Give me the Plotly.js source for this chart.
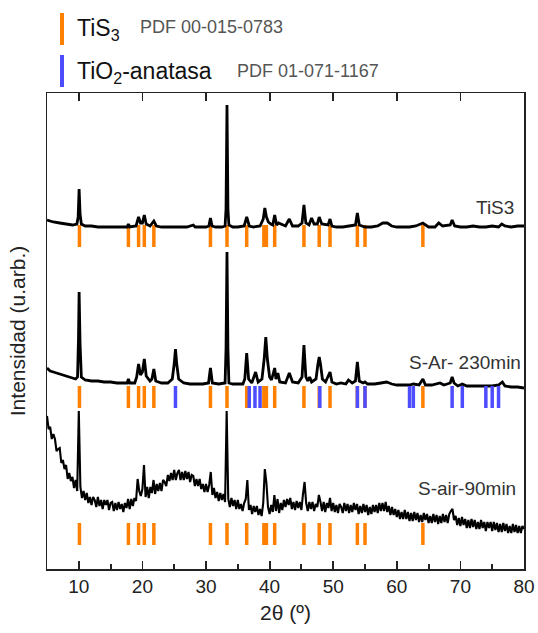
<!DOCTYPE html>
<html>
<head>
<meta charset="utf-8">
<script src="https://cdn.plot.ly/plotly-3.0.1.min.js"></script>
<style>html,body{margin:0;padding:0;background:#fff;}#chart{width:538px;height:633px;}</style>
</head>
<body>
<div id="chart"></div>
<script>
// ---- DATA (offset intensities, arbitrary units) ----
const tis3X = [5,6,7,8,9,9.7,9.9,10.05,10.2,10.4,11,12,13,14,15,16,17,17.6,17.8,18,19,19.4,19.7,20,20.3,20.6,21.2,21.8,22.2,23,24,25,26,27,28,28.3,29,30,30.45,30.7,30.95,31.5,32.5,33,33.15,33.3,33.45,33.6,34.2,35,36,36.4,36.8,37.5,38.5,39,39.25,39.5,39.8,40.2,40.5,40.8,41.1,41.4,42.5,43.1,43.6,44.5,45.1,45.4,45.7,46.2,46.6,47,47.5,47.8,48.2,49.2,49.5,49.8,50.5,51.5,52.5,53.5,53.8,54.1,55,56,57,57.8,58.5,59.2,60,61,62,63,64.1,65,66,66.6,67.2,68.4,68.7,69.1,70,71,72,73,74,75,76,76.5,77,78,79,80];
const tis3Y = [349,347,346,345,344,345,352,380,355,345,343,343,342,342,342,342,342,342,345,342,343,352,346,346,354,345,343,348,343,342,342,342,342,342,344,342,342,342,343,351,343,342,342,343,360,464,360,344,342,342,343,352,343,342,343,350,361,352,347,345,344,354,344,346,343,350,343,343,346,364,346,344,351,345,345,352,345,344,350,343,342,342,343,344,356,344,342,342,343,346,346,343,342,342,342,343,346,342,342,346,343,344,349,343,342,342,343,342,342,343,342,345,343,342,343,343];

const sarX = [5,5.5,6,6.5,7,7.5,8,8.5,9,9.5,9.8,9.95,10.05,10.2,10.4,11,12,13,14,15,16,17,17.6,17.8,18,18.8,19.1,19.4,19.7,20,20.3,20.6,21.2,21.5,21.8,22.1,23,24,24.7,25,25.2,25.4,25.7,26.5,27.5,28.5,29.5,30.4,30.7,31,32,33,33.15,33.3,33.45,33.6,34.2,35,35.8,36.1,36.4,36.7,37.2,37.8,38.2,38.8,39.15,39.4,39.65,40,40.3,40.8,41,41.3,41.6,42.5,43.1,43.6,44.5,45.1,45.4,45.7,46,46.3,46.6,47.3,47.6,47.8,48,48.3,48.8,49.5,49.8,50.5,51.2,52,52.4,53,53.5,53.8,54.1,54.7,55,55.4,56.5,57.5,58.4,59.2,60,61,62,62.6,63.5,64.1,64.5,65.5,66.8,67.4,68.4,68.7,69,69.6,70.3,71,72,73,74,75,76,76.6,77,78,79,80];
const sarY = [201,198,197,196,195,194,193,192,191,190,192,230,277,225,192,189,188,188,187,187,186,186,186,190,186,186,192,205,194,197,210,193,188,190,200,188,186,186,190,205,220,205,190,186,185,185,185,186,201,186,185,186,220,317,220,186,185,185,185,190,216,190,186,197,187,190,210,232,210,192,189,201,190,196,187,186,196,187,186,192,224,192,188,192,187,190,205,212,205,190,187,197,187,185,186,185,189,186,188,207,188,186,187,185,185,186,187,185,184,184,184,185,184,190,184,184,186,184,186,192,186,183,185,183,183,183,183,183,184,187,183,182,182,181];

// S-air-90min: measured on a 0.25 deg step from 5 deg
const sairStart = 5, sairStep = 0.25;
const sairY = [
153,140,142,130, 135,130,118,120, 121,106,109,100, 104,90,96,88, 92,81,89,78,
158,82,71,78, 69,76,66,72, 64,72,69,62, 72,63,69,60, 69,64,69,59,
66,67,58,66, 59,67,60,65, 57,66,61,70, 60,70,63,71, 68,90,78,73,
80,104,72,82, 71,82,76,89, 75,85,78,86, 78,89,87,83, 94,88,96,89,
99,89,96,99, 89,97,89,98, 90,97,87,94, 93,83,90,83, 90,80,85,77,
85,77,84,97, 74,81,71,77, 68,76,69,75, 67,158,70,62, 71,63,69,60,
69,60,65,58, 66,70,89,59, 64,55,63,57, 63,54,60,53, 66,100,86,62,
55,64,57,74, 58,70,56,66, 59,69,62,70, 64,71,60,67, 59,68,61,67,
59,75,87,66, 58,67,60,67, 58,65,62,74, 67,58,67,57, 66,61,71,58,
66,57,64,56, 65,62,56,66, 58,65,56,64, 57,66,59,65, 55,63,56,65,
57,64,54,62, 55,64,57,64, 56,66,58,66, 58,67,57,63, 54,62,54,60,
52,59,50,57, 50,59,50,57, 48,56,48,57, 49,56,47,54, 47,56,49,55,
46,53,46,55, 47,54,45,53, 46,55,47,54, 46,55,58,60, 49,53,44,51,
43,52,44,50, 41,49,41,50, 42,49,40,47, 40,49,41,47, 38,47,41,47,
38,47,39,46, 37,45,37,46, 38,45,36,43, 36,45,37,44, 36,43,36,43,
40];

// Reference patterns (2theta positions)
const tis3Peaks = [10.1,17.8,19.4,20.3,21.8,30.7,33.3,36.4,39.1,39.5,40.8,45.4,47.8,49.5,53.8,55.0,64.1];
const anatasePeaks = [25.2,36.8,37.7,38.5,47.9,53.8,55.0,62.0,62.6,68.7,70.3,74.0,75.0,76.0];
// vertical extents of the stick rows (same units as intensities)
const rowTiS3 = [322,344];
const rowSAr = [161,183];
const rowSAir = [24,46];

const sampleLabels = ['TiS3','S-Ar- 230min','S-air-90min'];
const xTickVals = [10,20,30,40,50,60,70,80];

// ---- BUILD ----
const sairX = sairY.map((_, i) => sairStart + i * sairStep);
const ORANGE = '#ff8000', BLUE = '#4d4dff';

function sticks(peaks, row, color) {
  const x = [], y = [];
  peaks.forEach(p => { x.push(p, p, null); y.push(row[0], row[1], null); });
  return {x, y, type:'scatter', mode:'lines', line:{color, width:3.5}, hoverinfo:'skip', showlegend:false};
}
const lineT = (x, y, w) => ({x, y, type:'scatter', mode:'lines', line:{color:'#000', width:w, simplify:false}, showlegend:false});

const tis3Trace = lineT(tis3X, tis3Y, 2.8);
tis3Trace.xaxis = 'x2';   // x2 has the same range as x; it carries the top ticks

const traces = [
  tis3Trace,
  lineT(sarX, sarY, 2.8),
  lineT(sairX, sairY, 2.1),
  sticks(tis3Peaks, rowTiS3, ORANGE),
  sticks(tis3Peaks, rowSAr, ORANGE),
  sticks(anatasePeaks, rowSAr, BLUE),
  sticks(tis3Peaks, rowSAir, ORANGE)
];

// plot area: 47..524 px horizontally, 93..569 px vertically
const L = 47, T = 93, W = 477, H = 476;
const px = p => (p - L) / W;
const py = p => (T + H - p) / H;
const FONT = 'Liberation Sans, Arial, sans-serif';
const AX = '#222';

const layout = {
  width:538, height:633,
  margin:{l:L, r:538-L-W, t:T, b:633-T-H},
  paper_bgcolor:'#fff', plot_bgcolor:'#fff',
  font:{family:FONT, color:'#222'},
  showlegend:false,
  xaxis:{
    range:[5,80], tickmode:'array', tickvals:xTickVals,
    ticks:'inside', ticklen:8, tickwidth:1.8, tickcolor:AX,
    minor:{tickmode:'linear', tick0:5, dtick:5, ticks:'inside', ticklen:5, tickwidth:1.8, tickcolor:AX, showgrid:false},
    showline:true, linecolor:AX, linewidth:1.5, mirror:true, showgrid:false, zeroline:false,
    tickfont:{size:19, family:FONT, color:'#222'},
    title:{text:'2θ (º)', font:{size:21, family:FONT, color:'#222'}, standoff:9}
  },
  xaxis2:{
    overlaying:'x', side:'top', anchor:'y', range:[5,80], tickmode:'array', tickvals:xTickVals,
    ticks:'inside', ticklen:8, tickwidth:1.8, tickcolor:AX,
    showticklabels:false, showgrid:false, zeroline:false, showline:false
  },
  yaxis:{
    range:[0,476], showticklabels:false, ticks:'', showgrid:false, zeroline:false,
    showline:true, linecolor:AX, linewidth:1.5, mirror:true,
    title:{text:'Intensidad (u.arb.)', font:{size:21, family:FONT, color:'#222'}, standoff:14}
  },
  shapes:[
    {type:'line', xref:'paper', yref:'paper', x0:px(62), x1:px(62), y0:py(13), y1:py(45), line:{color:ORANGE, width:4}},
    {type:'line', xref:'paper', yref:'paper', x0:px(62), x1:px(62), y0:py(55), y1:py(87), line:{color:BLUE, width:4}}
  ],
  annotations:[
    {xref:'paper', yref:'paper', x:px(75), y:py(29), xanchor:'left', yanchor:'middle', showarrow:false,
     text:'TiS<sub>3</sub>', font:{size:23, family:FONT, color:'#111'}},
    {xref:'paper', yref:'paper', x:px(138), y:py(27), xanchor:'left', yanchor:'middle', showarrow:false,
     text:'PDF 00-015-0783', font:{size:18, family:FONT, color:'#555'}},
    {xref:'paper', yref:'paper', x:px(75), y:py(73), xanchor:'left', yanchor:'middle', showarrow:false,
     text:'TiO<sub>2</sub>-anatasa', font:{size:23, family:FONT, color:'#111'}},
    {xref:'paper', yref:'paper', x:px(235), y:py(71), xanchor:'left', yanchor:'middle', showarrow:false,
     text:'PDF 01-071-1167', font:{size:18, family:FONT, color:'#555'}},
    {xref:'x', yref:'y', x:78.7, y:362, xanchor:'right', yanchor:'middle', showarrow:false,
     text:sampleLabels[0], font:{size:19, family:FONT, color:'#333'}},
    {xref:'x', yref:'y', x:61.6, y:207, xanchor:'left', yanchor:'middle', showarrow:false,
     text:sampleLabels[1], font:{size:19, family:FONT, color:'#333'}},
    {xref:'x', yref:'y', x:63.0, y:81, xanchor:'left', yanchor:'middle', showarrow:false,
     text:sampleLabels[2], font:{size:19, family:FONT, color:'#333'}}
  ]
};

Plotly.newPlot('chart', traces, layout, {staticPlot:true, displayModeBar:false});
</script>
</body>
</html>
